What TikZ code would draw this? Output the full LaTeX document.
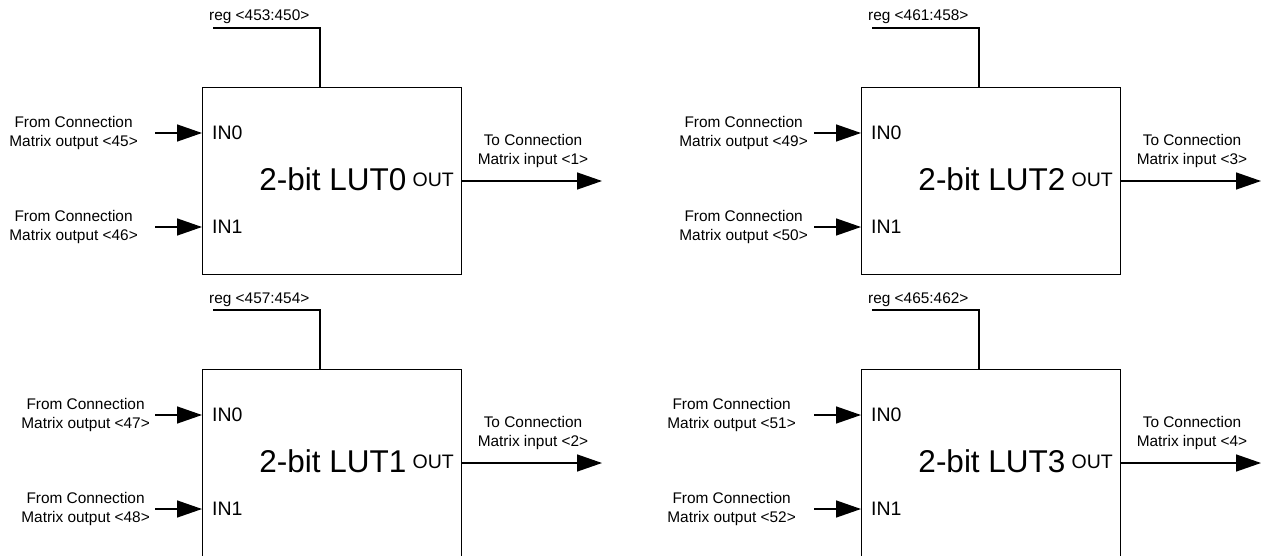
\documentclass[tikz,border=0pt]{standalone}
\usepackage{fontspec}
\setmainfont{Liberation Sans}
\usetikzlibrary{arrows.meta}
\tikzset{
  wire/.style={line width=1.4pt},
  arr/.style={wire,-{Triangle[length=25pt,width=17pt]}},
  lutbox/.style={draw,line width=1.4pt,minimum width=259pt,minimum height=\boxh pt,anchor=north west,inner sep=0pt},
  small/.style={font=\fontsize{15.4}{19}\selectfont,inner sep=0pt,align=center},
  pinlabel/.style={font=\fontsize{19.5}{22}\selectfont,inner sep=0pt},
  biglabel/.style={font=\fontsize{31.5}{36}\selectfont,inner sep=0pt},
}
\def\boxh{187}
% #1 id, #2 xoff, #3 yoff, #4 LUT no, #5 reg, #6 in0 no, #7 in1 no, #8 out no, #9 label right edge
\newcommand\lutblock[9]{%
  \begin{scope}[shift={(#2,#3)}]
    \node[lutbox] (box#1) at (202,87) {};
    \node[small,anchor=base west] (reg#1) at (209,21) {reg <#5>};
    \coordinate (rs#1) at (213,28);
    \coordinate (rx#1) at (320,28);
    \draw[wire] (rs#1) -- (rx#1) -- (rx#1 |- box#1.north);
    \coordinate (ia#1) at (155,133);
    \coordinate (ib#1) at (155,227);
    \draw[arr] (ia#1) -- (ia#1 -| box#1.west);
    \draw[arr] (ib#1) -- (ib#1 -| box#1.west);
    \node[small,anchor=east] (la#1) at (#9,133.5) {From Connection\\Matrix output <#6>};
    \node[small,anchor=east] (lb#1) at (#9,227.5) {From Connection\\Matrix output <#7>};
    \node[pinlabel,anchor=west] (pa#1) at (212,133) {IN0};
    \node[pinlabel,anchor=west] (pb#1) at (212,227) {IN1};
    \node[biglabel] (name#1) at (333,179) {2-bit LUT#4};
    \node[pinlabel,anchor=east] (po#1) at (454,180) {OUT};
    \coordinate (oe#1) at (602,181);
    \draw[arr] (box#1.east |- oe#1) -- (oe#1);
    \node[small] (lo#1) at (533,151.5) {To Connection\\Matrix input <#8>};
  \end{scope}}
\begin{document}
\begin{tikzpicture}[x=1pt,y=-1pt]
  \clip (0,0) rectangle (1265,556);
  \fill[white] (0,0) rectangle (1265,556);
  \def\boxh{187}
  \lutblock{a}{0}{0}{0}{453:450}{45}{46}{1}{138}
  \lutblock{c}{659}{0}{2}{461:458}{49}{50}{3}{149}
  \def\boxh{200}
  \lutblock{b}{0}{282}{1}{457:454}{47}{48}{2}{150}
  \lutblock{d}{659}{282}{3}{465:462}{51}{52}{4}{137}
\end{tikzpicture}
\end{document}
